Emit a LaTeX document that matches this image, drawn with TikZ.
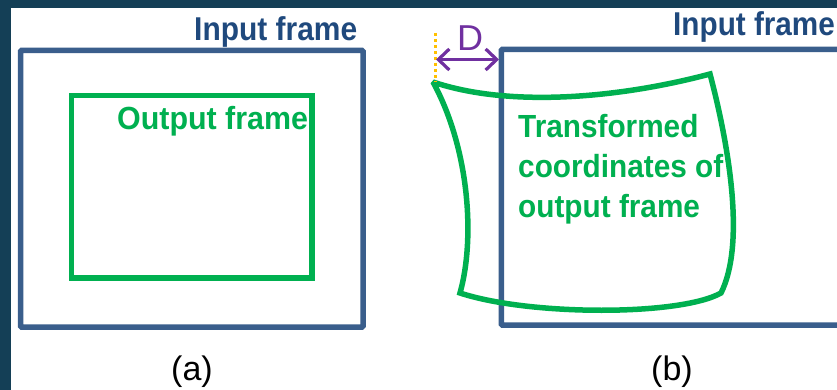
\documentclass[tikz,border=0pt]{standalone}
\usepackage{fontspec}
\setmainfont{Liberation Sans}
\usepackage{graphicx}
\usetikzlibrary{arrows.meta}
\definecolor{bgdark}{HTML}{143F56}
\definecolor{frameblue}{HTML}{3A5E8C}
\definecolor{textblue}{HTML}{1F497D}
\definecolor{outgreen}{HTML}{00B050}
\definecolor{dpurple}{HTML}{7030A0}
\definecolor{dorange}{HTML}{FFC000}
\newcommand\sqz[2]{\scalebox{#1}[1]{#2}}
\tikzset{
  inframe/.style={draw=frameblue, line width=5.5pt, rounded corners=1pt},
  outframe/.style={draw=outgreen, line width=5.5pt, line join=miter, miter limit=2},
  bluelabel/.style={text=textblue, font=\fontsize{33}{38}\selectfont\bfseries, inner sep=0pt, anchor=base west},
  greenlabel/.style={text=outgreen, font=\fontsize{32}{38}\selectfont\bfseries, inner sep=0pt, anchor=base west},
  caption/.style={text=black, font=\fontsize{34}{40}\selectfont, inner sep=0pt, anchor=base},
  dbarb/.tip={Straight Barb[length=11pt,width=21pt]},
}
\begin{document}
\begin{tikzpicture}[x=1pt,y=-1pt]
\useasboundingbox (0,0) rectangle (837,390);
\fill[bgdark] (0,0) rectangle (837,390);
\fill[white] (11,8) rectangle (837,390);
\begin{scope}
\clip (11,8) rectangle (837,390);
% (a)
\draw[inframe] (20.5,50.5) rectangle (363,327);
\draw[outframe] (71.5,95.5) rectangle (312,278);
\node[bluelabel] (inA) at (194,40.5) {\sqz{0.907}{Input frame}};
\node[greenlabel] (outA) at (117,129.5) {\sqz{0.95}{Output frame}};
\node[caption] (capA) at (192,380) {(a)};
% (b)
\draw[inframe] (850,49.5) -- (501.3,49.5) -- (501.3,325) -- (850,325);
\draw[outframe] (433,82)
  .. controls (510,108) and (620,98) .. (710,74)
  .. controls (730,150) and (745,245) .. (721,293)
  .. controls (680,316) and (530,316) .. (460,293)
  .. controls (475,240) and (470,150) .. cycle;
\node[bluelabel] (inB) at (673,36) {\sqz{0.9}{Input frame}};
\node[greenlabel] (t1) at (518,138) {\sqz{0.93}{Transformed}};
\node[greenlabel] (t2) at (518,177.5) {\sqz{0.93}{coordinates of}};
\node[greenlabel] (t3) at (518,217.5) {\sqz{0.93}{output frame}};
\node[caption] (capB) at (672,380) {(b)};
% D marker
\coordinate (dtop) at (435,33);
\coordinate (dbot) at (435,82);
\coordinate (dl) at (436,59.5);
\coordinate (dr) at (499,59.5);
\draw[dorange, line width=3pt, dash pattern=on 3pt off 3pt] (dtop) -- (dbot);
\draw[dpurple, line width=3.2pt, dbarb-dbarb] (dl) -- (dr);
\node[text=dpurple, font=\fontsize{36}{40}\selectfont, inner sep=0pt, anchor=base] (D) at (470,51) {D};
\end{scope}
\end{tikzpicture}
\end{document}
